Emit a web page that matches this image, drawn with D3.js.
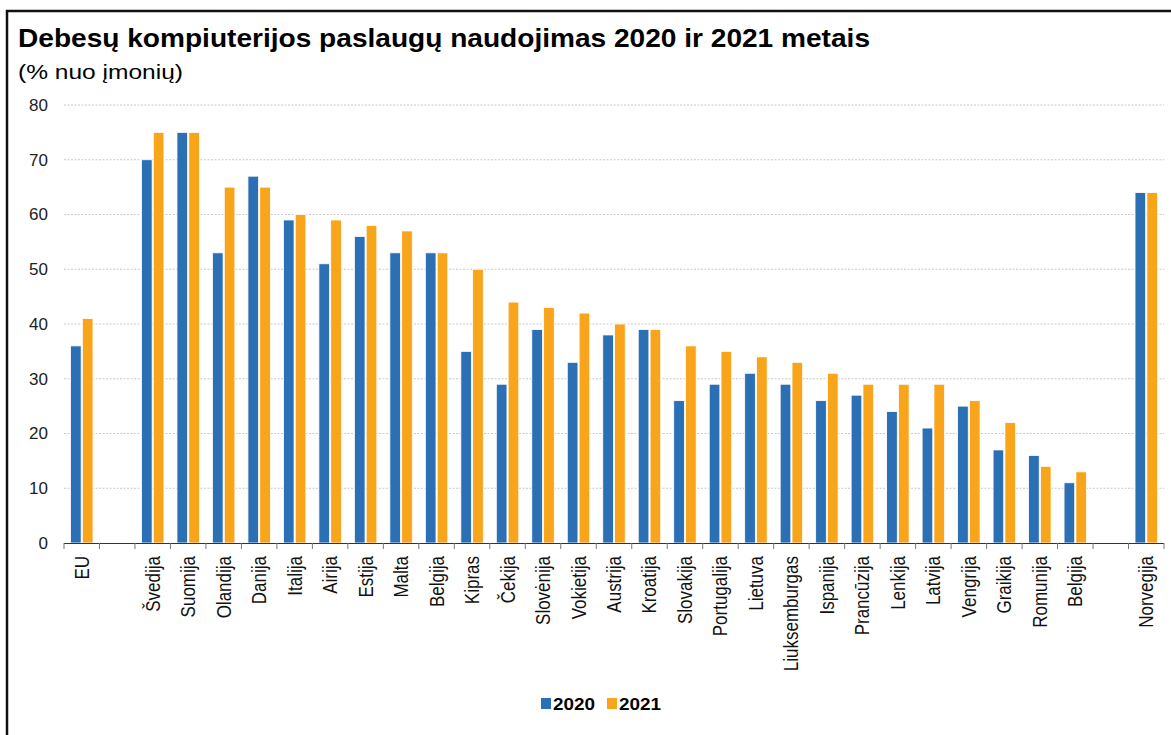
<!DOCTYPE html>
<html>
<head>
<meta charset="utf-8">
<script src="https://cdn.jsdelivr.net/npm/d3@7"></script>
<style>
  html, body { margin: 0; padding: 0; background: #fff; }
  svg { display: block; font-family: "Liberation Sans", Arial, sans-serif; }
</style>
</head>
<body>
<svg id="chart" width="1171" height="735"></svg>
<script>
const title = "Debesų kompiuterijos paslaugų naudojimas 2020 ir 2021 metais";
const subtitle = "(% nuo įmonių)";
const categories = ["EU", "", "Švedija", "Suomija", "Olandija", "Danija", "Italija", "Airija", "Estija", "Malta", "Belgija", "Kipras", "Čekija", "Slovėnija", "Vokietija", "Austrija", "Kroatija", "Slovakija", "Portugalija", "Lietuva", "Liuksemburgas", "Ispanija", "Prancūzija", "Lenkija", "Latvija", "Vengrija", "Graikija", "Romunija", "Belgija", "", "Norvegija"];
const values2020 = [36, null, 70, 75, 53, 67, 59, 51, 56, 53, 53, 35, 29, 39, 33, 38, 39, 26, 29, 31, 29, 26, 27, 24, 21, 25, 17, 16, 11, null, 64];
const values2021 = [41, null, 75, 75, 65, 65, 60, 59, 58, 57, 53, 50, 44, 43, 42, 40, 39, 36, 35, 34, 33, 31, 29, 29, 29, 26, 22, 14, 13, null, 64];
const seriesNames = ["2020", "2021"];
const seriesColors = ["#2b6fb5", "#f9a51b"];
const yTicks = [0, 10, 20, 30, 40, 50, 60, 70, 80];

const svg = d3.select("#chart");

// frame
svg.append("path")
  .attr("d", "M7,740 L7,11 L1180,11")
  .attr("fill", "none").attr("stroke", "#111").attr("stroke-width", 2.5);

// titles
svg.append("text").attr("x", 18).attr("y", 47)
  .attr("font-size", 25).attr("font-weight", "bold").attr("fill", "#000")
  .attr("textLength", 852).attr("lengthAdjust", "spacingAndGlyphs")
  .text(title);
svg.append("text").attr("x", 18).attr("y", 79)
  .attr("font-size", 21).attr("fill", "#000")
  .attr("textLength", 165).attr("lengthAdjust", "spacingAndGlyphs")
  .text(subtitle);

const x = d3.scaleBand().domain(d3.range(categories.length)).range([64, 1164]).paddingInner(0).paddingOuter(0);
const xs = d3.scaleBand().domain(seriesNames).range([0, x.bandwidth()]).paddingInner(0.1).paddingOuter(0.55);
const y = d3.scaleLinear().domain([0, 80]).range([543, 105]);

// gridlines
svg.append("g").selectAll("line").data(yTicks.filter(t => t > 0)).join("line")
  .attr("x1", 64).attr("x2", 1164)
  .attr("y1", d => y(d)).attr("y2", d => y(d))
  .attr("stroke", "#c9c9c9").attr("stroke-width", 1).attr("stroke-dasharray", "2,1.5");

// y labels
const yAxis = d3.axisLeft(y).tickValues(yTicks).tickSize(0).tickPadding(0);
const gy = svg.append("g").attr("transform", "translate(48,0)").call(yAxis);
gy.select(".domain").remove();
gy.selectAll("text").attr("font-size", 17).attr("fill", "#222").attr("font-family", "Liberation Sans, Arial, sans-serif");

// bars
const rows = categories.map((c, i) => ({i, c, vals: [values2020[i], values2021[i]]}));
const groups = svg.append("g").selectAll("g").data(rows).join("g")
  .attr("transform", d => `translate(${x(d.i)},0)`);
groups.selectAll("rect").data(d => d.vals.map((v, k) => ({v, k})).filter(e => e.v != null)).join("rect")
  .attr("x", e => xs(seriesNames[e.k]))
  .attr("width", xs.bandwidth())
  .attr("y", e => y(e.v))
  .attr("height", e => y(0) - y(e.v))
  .attr("fill", e => seriesColors[e.k])
  .attr("stroke", "#ffffff").attr("stroke-width", 0.8);

// x axis line and ticks at boundaries
svg.append("line").attr("x1", 64).attr("x2", 1164).attr("y1", 543.5).attr("y2", 543.5)
  .attr("stroke", "#333").attr("stroke-width", 1.2);
const bounds = d3.range(categories.length + 1).map(i => 64 + i * x.step());
svg.append("g").selectAll("line").data(bounds).join("line")
  .attr("x1", d => d).attr("x2", d => d).attr("y1", 543).attr("y2", 549)
  .attr("stroke", "#777").attr("stroke-width", 1);

// category labels
svg.append("g").selectAll("text").data(rows.filter(r => r.c !== "")).join("text")
  .attr("transform", d => `translate(${x(d.i) + x.bandwidth() / 2 + 7},556) rotate(-90) scale(1,1.2)`)
  .attr("text-anchor", "end")
  .attr("font-size", 17).attr("fill", "#111")
  .text(d => d.c);

// legend
const legend = svg.append("g").attr("transform", "translate(541,0)");
const lx = [0, 66];
seriesNames.forEach((s, k) => {
  legend.append("rect").attr("x", lx[k]).attr("y", 698).attr("width", 10).attr("height", 11).attr("fill", seriesColors[k]);
  legend.append("text").attr("x", lx[k] + 12).attr("y", 710).attr("font-size", 17).attr("font-weight", "bold").attr("fill", "#000")
    .attr("textLength", 42).attr("lengthAdjust", "spacingAndGlyphs").text(s);
});
</script>
</body>
</html>
